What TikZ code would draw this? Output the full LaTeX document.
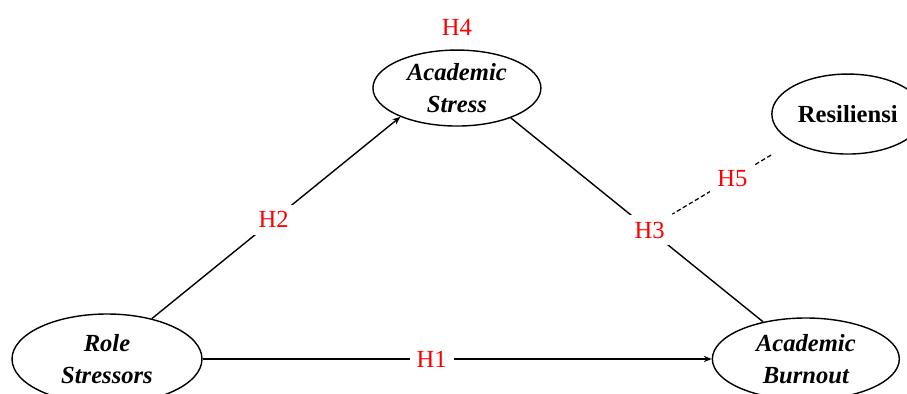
\documentclass[tikz,border=0pt]{standalone}
\usepackage{fontspec}
\setmainfont{Liberation Serif}
\usetikzlibrary{shapes.geometric, positioning, arrows.meta}

\begin{document}
\begin{tikzpicture}[x=0.02cm, y=-0.02cm, on grid, >={Stealth[length=4.5pt,width=3.6pt]}, line width=0.8pt,
    var/.style={ellipse, draw, inner sep=0pt, align=center, font=\fontsize{14}{18}\selectfont\bfseries\itshape},
    hyp/.style={text=red, fill=white, inner sep=4pt, font=\fontsize{14}{16}\selectfont}]
    \useasboundingbox (0,0) rectangle (907,394);
    \node[var, minimum width=3.8cm, minimum height=1.8cm] (rs) at (107,359) {Role\\Stressors};
    \node[var, minimum width=3.74cm, minimum height=1.64cm] (ab) [right=13.98cm of rs] {Academic\\Burnout};
    \node[var, minimum width=3.36cm, minimum height=1.52cm] (as) [above right=5.42cm and 7cm of rs] {Academic\\Stress};
    \node[var, font=\fontsize{14}{18}\selectfont\bfseries, minimum width=3.04cm, minimum height=1.6cm] (res) [above right=4.9cm and 0.84cm of ab] {Resiliensi};
    \node[hyp] (h4) [above=1.22cm of as] {H4};

    \path[->]
    (rs) edge node[hyp, pos=0.45] (h1) {H1} (ab)
    (rs.42) edge node[hyp, pos=0.49] (h2) {H2} (as.207);
    \draw (as.-29) -- node[hyp, pos=0.55] (h3) {H3} (ab.139);
    \draw[dash pattern=on 2.5pt off 1.5pt, line width=0.7pt, shorten <=0.5cm] (res.207) -- node[hyp, pos=0.5] (h5) {H5} (h3.north east);
\end{tikzpicture}
\end{document}
